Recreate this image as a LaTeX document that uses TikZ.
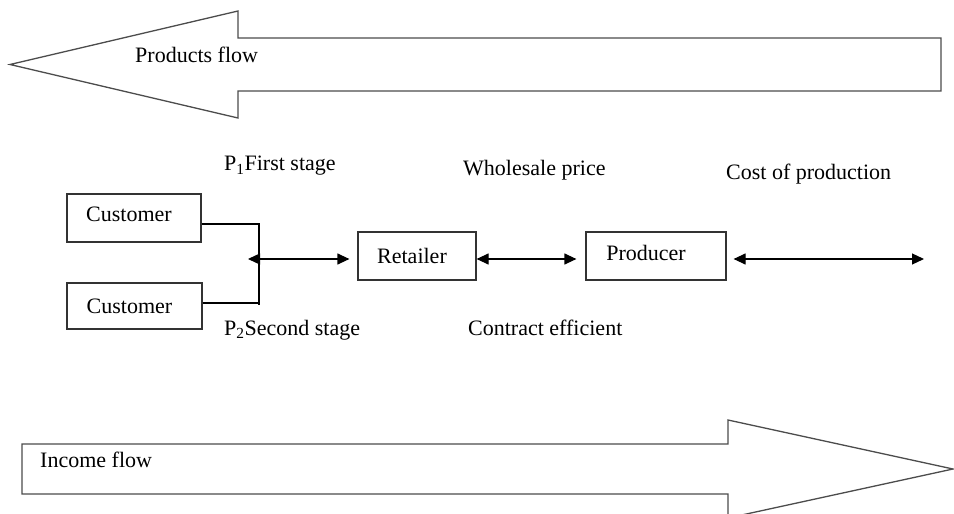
\documentclass[tikz,border=0pt]{standalone}
\usepackage{fontspec}
\setmainfont{Liberation Serif}
\usetikzlibrary{arrows.meta}

\tikzset{
  flowarrow/.style={draw=black!70, line width=1.3pt, fill=white, line join=miter},
  box/.style={draw=black!80, line width=1.2pt, inner sep=0pt},
  txt/.style={inner sep=0pt, font=\fontsize{22}{26}\selectfont},
  lbl/.style={txt, anchor=west},
  link/.style={draw=black, line width=1.2pt},
  twoway/.style={link, {Triangle[length=12pt,width=11pt]}-{Triangle[length=12pt,width=11pt]}}
}

\begin{document}
\begin{tikzpicture}[x=1pt, y=-1pt]
\useasboundingbox (0,0) rectangle (954,514);

% products flow, pointing left
\draw[flowarrow] (941,38) -- (238,38) -- (238,11) -- (10,64.5) -- (238,118) -- (238,91) -- (941,91) -- cycle;
\node[lbl] (pflow) at (135,55) {Products flow};

% income flow, pointing right
\draw[flowarrow] (22,444) -- (728,444) -- (728,420) -- (953,469) -- (728,518) -- (728,494) -- (22,494) -- cycle;
\node[lbl] (iflow) at (40,460) {Income flow};

% chain of participants
\node[box, minimum width=134pt, minimum height=48pt] (c1) at (134,218) {};
\node[box, minimum width=135pt, minimum height=46pt] (c2) at (134.5,306) {};
\node[box, minimum width=118pt, minimum height=48pt] (ret) at (417,256) {};
\node[box, minimum width=140pt, minimum height=48pt] (prod) at (656,256) {};
\node[txt] (c1t) at ([xshift=-5pt,yshift=4pt]c1.center) {Customer};
\node[txt] (c2t) at ([xshift=-5pt]c2.center) {Customer};
\node[txt] (rett) at ([xshift=-5pt]ret.center) {Retailer};
\node[txt] (prodt) at ([xshift=-10pt,yshift=3pt]prod.center) {Producer};

% stage labels
\node[lbl] (p1) at (224,166) {P\textsubscript{1}First stage};
\node[lbl] (p2) at (224,330) {P\textsubscript{2}Second stage};
\node[lbl] (ws) at (463,170) {Wholesale price};
\node[lbl] (cp) at (726,174) {Cost of production};
\node[lbl] (ce) at (468,328) {Contract efficient};

% bracket joining the two customers
\coordinate (jtop) at (259,224);
\coordinate (jbot) at (259,305);
\coordinate (jmid) at (259,303);
\coordinate (jleft) at (248,259);
\draw[link] ([yshift=-6pt]c1.east) -- (jtop) -- (jbot);
\draw[link] (c2.east |- jmid) -- (jmid);

% two-way links
\draw[twoway, shorten >=8pt] (jleft) -- (ret.west |- jleft);
\draw[twoway, shorten >=9pt] (ret.east |- jleft) -- (prod.west |- jleft);
\coordinate (cend) at (924,259);
\draw[twoway, shorten <=7pt] (prod.east |- jleft) -- (cend);
\end{tikzpicture}
\end{document}
